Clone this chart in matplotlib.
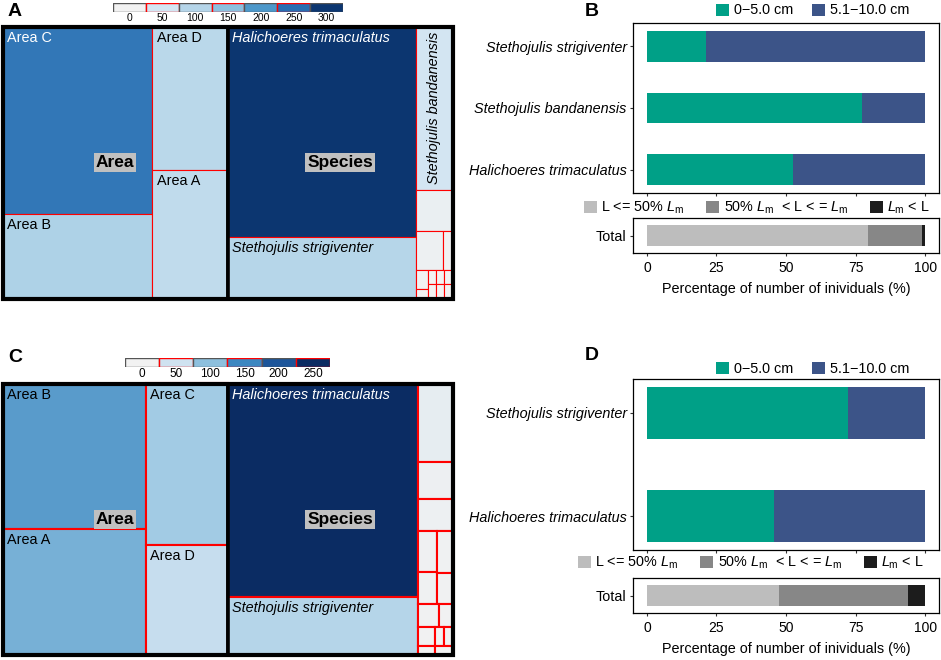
import matplotlib.pyplot as plt
from matplotlib.patches import Rectangle, Patch
from matplotlib.colors import LinearSegmentedColormap, to_rgb
import numpy as np

plt.rcParams['font.family'] = ['Liberation Sans', 'DejaVu Sans']
plt.rcParams['mathtext.fontset'] = 'custom'
plt.rcParams['mathtext.rm'] = 'Liberation Sans'
plt.rcParams['mathtext.it'] = 'Liberation Sans:italic'
plt.rcParams['mathtext.bf'] = 'Liberation Sans:bold'

# ---- treemap A: number of individuals per area / per species ----
area_names_a = ["Area C", "Area B", "Area D", "Area A"]
area_counts_a = [238, 108, 92, 82]
area_split_a = ("h", [("v", [0, 1]), ("v", [2, 3])])

species_names_a = ["Halichoeres trimaculatus", "Stethojulis strigiventer",
                   "Stethojulis bandanensis"] + [""] * 11
species_counts_a = [337, 98, 51, 13, 9, 3, 2, 1, 1, 1, 1, 1, 1, 1]
species_split_a = ("h", [("v", [0, 1]),
                         ("v", [2, 3, ("h", [4, 5]),
                                ("h", [("v", [6, 7]),
                                       ("v", [("h", [8, 9, 10]),
                                              ("h", [11, 12, 13])])])])])

scale_ticks_a = [0, 50, 100, 150, 200, 250, 300]
scale_colors_a = ["#f2f2f2", "#d3e5f2", "#b5d5e9", "#8cc0de",
                  "#4d98ca", "#2a6db1", "#0c3670"]

# ---- treemap C ----
area_names_c = ["Area B", "Area A", "Area C", "Area D"]
area_counts_c = [132, 114, 84, 57]
area_split_c = ("h", [("v", [0, 1]), ("v", [2, 3])])

species_names_c = ["Halichoeres trimaculatus", "Stethojulis strigiventer"] + [""] * 14
species_counts_c = [258, 70, 17, 8, 7, 5, 4, 4, 3, 3, 2, 2, 1, 1, 1, 1]
species_split_c = ("h", [("v", [0, 1]),
                         ("v", [2, 3, 4,
                                ("h", [("v", [5, 7]), ("v", [6, 8])]),
                                ("h", [9, 10]),
                                ("h", [11, 12, 13]),
                                ("h", [14, 15])])])

scale_ticks_c = [0, 50, 100, 150, 200, 250]
scale_colors_c = ["#f2f2f2", "#cfe2f0", "#8dc0de", "#3c87c1", "#1c559a", "#0b2c63"]

# ---- bars B and D (percentages) ----
species_b = ["Halichoeres trimaculatus", "Stethojulis bandanensis", "Stethojulis strigiventer"]
pct_small_b = [52.5, 77.3, 21.2]
maturity_b = [79.5, 19.5, 1.0]

species_d = ["Halichoeres trimaculatus", "Stethojulis strigiventer"]
pct_small_d = [45.7, 72.2]
maturity_d = [47.6, 46.2, 6.2]

size_labels = ["0\u22125.0 cm", "5.1\u221210.0 cm"]
size_colors = ["#00A087", "#3C5488"]
maturity_labels = [r"L <= 50% $\mathit{L}_{\mathrm{m}}$",
                   r"50% $\mathit{L}_{\mathrm{m}}$  < L < = $\mathit{L}_{\mathrm{m}}$",
                   r"$\mathit{L}_{\mathrm{m}}$ < L"]
maturity_colors = ["#bdbdbd", "#878787", "#1c1c1c"]

W, H = 941, 660
fig = plt.figure(figsize=(W / 100, H / 100), dpi=100)


def px_axes(x0, y0, x1, y1):
    return fig.add_axes([x0 / W, 1 - y1 / H, (x1 - x0) / W, (y1 - y0) / H])


def tree_total(node, counts):
    if isinstance(node, int):
        return counts[node]
    return sum(tree_total(k, counts) for k in node[1])


def layout(node, counts, x, y, w, h, out):
    if isinstance(node, int):
        out.append((node, x, y, w, h))
        return
    tot = tree_total(node, counts)
    pos = 0.0
    for k in node[1]:
        f = tree_total(k, counts) / tot
        if node[0] == "h":
            layout(k, counts, x + pos * w, y, f * w, h, out)
        else:
            layout(k, counts, x, y + h - (pos + f) * h, w, f * h, out)
        pos += f


def luminance(c):
    r, g, b = to_rgb(c)
    return 0.2126 * r + 0.7152 * g + 0.0722 * b


def draw_treemap(box, groups, ticks, colors, red_lw, leg_box, leg_fs):
    ax = px_axes(*box)
    ax.set_xlim(0, 1)
    ax.set_ylim(0, 1)
    ax.axis("off")
    ax_wpx = box[2] - box[0]
    vmax = ticks[-1]
    cmap = LinearSegmentedColormap.from_list(
        "tm", list(zip(np.array(ticks) / vmax, colors)))
    grand = sum(sum(g[2]) for g in groups)
    gx = 0.0
    for glabel, names, counts, tree in groups:
        gw = sum(counts) / grand
        tiles = []
        layout(tree, counts, gx, 0.0, gw, 1.0, tiles)
        for i, x, y, w, h in tiles:
            fc = cmap(min(counts[i] / vmax, 1.0))
            ax.add_patch(Rectangle((x, y), w, h, fc=fc, ec="red", lw=red_lw, clip_on=False))
            if names[i]:
                tc = "white" if luminance(fc) < 0.45 else "black"
                style = "italic" if glabel == "Species" else "normal"
                if w * ax_wpx < 50:
                    ax.annotate(names[i], (x + w / 2, y + h), xytext=(0, -4),
                                textcoords="offset points", rotation=90,
                                ha="center", va="top", fontsize=10.4,
                                color=tc, style=style)
                else:
                    ax.annotate(names[i], (x, y + h), xytext=(3.5, -3),
                                textcoords="offset points",
                                ha="left", va="top", fontsize=10.4,
                                color=tc, style=style)
        ax.add_patch(Rectangle((gx, 0), gw, 1, fill=False, ec="black", lw=2.6, clip_on=False))
        ax.text(gx + gw / 2, 0.5, glabel, fontsize=12.5, weight="bold",
                ha="center", va="center",
                bbox=dict(boxstyle="square,pad=0.12", fc="#c0c0c0", ec="none"))
        gx += gw
    ax.add_patch(Rectangle((0, 0), 1, 1, fill=False, ec="black", lw=3, clip_on=False))

    # colour scale
    lg = px_axes(*leg_box)
    n = len(ticks)
    edges = ["#555555" if k % 2 == 0 else "red" for k in range(n)]
    lg.bar(range(n), [1] * n, width=1, bottom=0, color=colors,
           edgecolor=edges, lw=1)
    lg.set_xlim(-0.5, n - 0.5)
    lg.set_ylim(0, 1)
    lg.set_yticks([])
    lg.set_xticks(range(n))
    lg.set_xticklabels([str(t) for t in ticks], fontsize=leg_fs)
    lg.tick_params(axis="x", length=0, pad=1)
    for s in lg.spines.values():
        s.set_visible(False)


draw_treemap((2.5, 26.5, 452.5, 298.5),
             [("Area", area_names_a, area_counts_a, area_split_a),
              ("Species", species_names_a, species_counts_a, species_split_a)],
             scale_ticks_a, scale_colors_a, 0.8, (113, 3, 343, 12), 7.5)

draw_treemap((2.5, 383.5, 452.5, 655),
             [("Area", area_names_c, area_counts_c, area_split_c),
              ("Species", species_names_c, species_counts_c, species_split_c)],
             scale_ticks_c, scale_colors_c, 1.5, (125, 358, 330, 367), 8.5)


def style_axes(ax):
    for s in ax.spines.values():
        s.set_linewidth(0.9)
        s.set_color("black")
    ax.tick_params(direction="out", length=2.5, width=0.8, color="#333333",
                   pad=2, labelsize=10, labelcolor="black")


def bar_panel(top_box, bot_box, species, pct_small, maturity, ylim, leg1, leg2):
    ax = px_axes(*top_box)
    y = np.arange(1, len(species) + 1)
    large = [100 - v for v in pct_small]
    ax.barh(y, pct_small, height=0.5, color=size_colors[0])
    ax.barh(y, large, left=pct_small, height=0.5, color=size_colors[1])
    ax.set_xlim(-5, 105)
    ax.set_ylim(*ylim)
    ax.set_xticks([0, 25, 50, 75, 100])
    ax.set_yticks(y)
    style_axes(ax)
    ax.set_yticklabels(species, style="italic", fontsize=10.4)
    ax.tick_params(labelbottom=False)

    axb = px_axes(*bot_box)
    lefts = np.concatenate([[0], np.cumsum(maturity)[:-1]])
    axb.barh([1] * len(maturity), maturity, left=lefts, height=0.7,
             color=maturity_colors)
    axb.set_xlim(-5, 105)
    axb.set_ylim(0.4, 1.6)
    axb.set_xticks([0, 25, 50, 75, 100])
    axb.set_yticks([1])
    style_axes(axb)
    axb.set_yticklabels(["Total"], fontsize=10.4)
    axb.tick_params(axis="x", pad=3)
    axb.set_xlabel("Percentage of number of inividuals (%)", fontsize=10.4, labelpad=5)

    fig.legend([Patch(fc=c, ec="none") for c in size_colors], size_labels,
               loc="center", bbox_to_anchor=(leg1[0] / W, 1 - leg1[1] / H),
               ncol=2, frameon=False, handlelength=0.9, handleheight=0.9,
               handletextpad=0.35, columnspacing=1.3, fontsize=10.4,
               borderpad=0, borderaxespad=0)
    fig.legend([Patch(fc=c, ec="none") for c in maturity_colors], maturity_labels,
               loc="center", bbox_to_anchor=(leg2[0] / W, 1 - leg2[1] / H),
               ncol=3, frameon=False, handlelength=0.9, handleheight=0.9,
               handletextpad=0.3, columnspacing=1.5, fontsize=10.4,
               borderpad=0, borderaxespad=0)


bar_panel((633, 23, 939, 193), (633, 218, 939, 253), species_b, pct_small_b,
          maturity_b, (0.62, 3.38), (813, 10.5), (757, 208))
bar_panel((633, 379, 939, 550), (633, 578, 939, 613), species_d, pct_small_d,
          maturity_d, (0.67, 2.33), (813, 369), (751, 563))

for lab, x, y in [("A", 15, 12), ("B", 592, 12), ("C", 15, 357), ("D", 592, 355)]:
    fig.text(x / W, 1 - y / H, lab, fontsize=14, weight="bold", ha="center", va="center")

fig.savefig("out.png", dpi=100)
